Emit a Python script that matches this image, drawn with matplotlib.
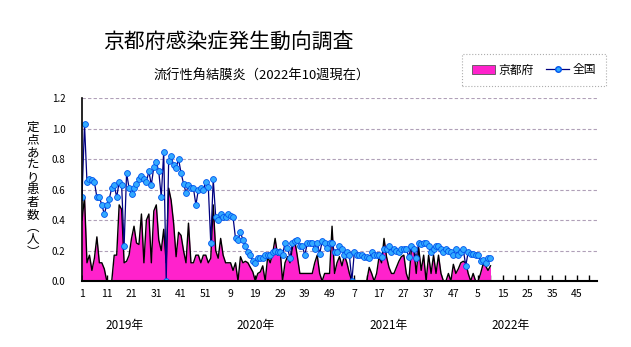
import numpy as np
import matplotlib
matplotlib.use("Agg")
import matplotlib.pyplot as plt
from matplotlib.patches import Patch
from matplotlib.lines import Line2D

plt.rcParams['font.family'] = ['Noto Sans CJK JP', 'DejaVu Sans']

# weekly values, 2019 week 1 .. 2022 week 10
kyoto = [
    0.40, 0.55, 0.12, 0.17, 0.07, 0.15, 0.29, 0.12, 0.12, 0.08,
    0.00, 0.00, 0.00, 0.17, 0.17, 0.50, 0.47, 0.12, 0.13, 0.17,
    0.28, 0.36, 0.25, 0.24, 0.44, 0.12, 0.40, 0.44, 0.12, 0.46,
    0.50, 0.27, 0.20, 0.34, 0.12, 0.61, 0.53, 0.38, 0.16, 0.32,
    0.30, 0.20, 0.12, 0.38, 0.12, 0.12, 0.17, 0.17, 0.12, 0.17,
    0.17, 0.12, 0.15, 0.50, 0.20, 0.15, 0.28, 0.17, 0.12, 0.12,
    0.12, 0.07, 0.12, 0.00, 0.16, 0.12, 0.13, 0.12, 0.09, 0.06,
    0.00, 0.05, 0.06, 0.10, 0.00, 0.16, 0.12, 0.18, 0.28, 0.17,
    0.21, 0.00, 0.12, 0.16, 0.12, 0.22, 0.26, 0.16, 0.05, 0.05,
    0.05, 0.05, 0.05, 0.05, 0.12, 0.17, 0.05, 0.00, 0.05, 0.05,
    0.05, 0.36, 0.05, 0.12, 0.16, 0.10, 0.17, 0.12, 0.05, 0.00,
    0.00, 0.00, 0.00, 0.00, 0.00, 0.00, 0.09, 0.05, 0.00, 0.05,
    0.16, 0.12, 0.28, 0.16, 0.09, 0.05, 0.05, 0.09, 0.13, 0.16,
    0.17, 0.05, 0.00, 0.20, 0.22, 0.05, 0.22, 0.07, 0.17, 0.00,
    0.17, 0.05, 0.17, 0.05, 0.17, 0.05, 0.00, 0.00, 0.05, 0.00,
    0.11, 0.05, 0.08, 0.12, 0.13, 0.12, 0.05, 0.00, 0.05, 0.00,
    0.00, 0.05, 0.11, 0.10, 0.07, 0.10,
]
zenkoku = [
    0.55, 1.03, 0.65, 0.67, 0.66, 0.65, 0.55, 0.55, 0.50, 0.44,
    0.50, 0.54, 0.61, 0.63, 0.55, 0.65, 0.63, 0.23, 0.71, 0.61,
    0.57, 0.61, 0.64, 0.67, 0.69, 0.67, 0.65, 0.72, 0.63, 0.75,
    0.78, 0.72, 0.55, 0.85, 0.00, 0.79, 0.82, 0.76, 0.74, 0.80,
    0.71, 0.64, 0.58, 0.63, 0.61, 0.61, 0.50, 0.60, 0.61, 0.60,
    0.65, 0.62, 0.25, 0.67, 0.42, 0.40, 0.44, 0.42, 0.42, 0.44,
    0.43, 0.42, 0.28, 0.27, 0.32, 0.27, 0.23, 0.19, 0.17, 0.13,
    0.12, 0.15, 0.15, 0.15, 0.17, 0.17, 0.17, 0.19, 0.20, 0.19,
    0.19, 0.17, 0.25, 0.22, 0.15, 0.25, 0.26, 0.27, 0.23, 0.23,
    0.17, 0.25, 0.25, 0.25, 0.21, 0.25, 0.18, 0.26, 0.25, 0.22,
    0.25, 0.25, 0.19, 0.19, 0.23, 0.21, 0.17, 0.19, 0.17, 0.00,
    0.19, 0.17, 0.17, 0.17, 0.16, 0.16, 0.15, 0.19, 0.17, 0.17,
    0.17, 0.16, 0.21, 0.21, 0.23, 0.19, 0.21, 0.20, 0.19, 0.21,
    0.21, 0.21, 0.16, 0.23, 0.21, 0.15, 0.25, 0.24, 0.25, 0.25,
    0.23, 0.19, 0.21, 0.23, 0.23, 0.21, 0.19, 0.21, 0.20, 0.19,
    0.17, 0.21, 0.17, 0.19, 0.21, 0.10, 0.19, 0.18, 0.18, 0.17,
    0.17, 0.13, 0.14, 0.12, 0.15, 0.15,
]
tick_labels = ['1', '11', '21', '31', '41', '51', '9', '19', '29', '39', '49',
               '7', '17', '27', '37', '47', '5', '15', '25', '35', '45']
years = ['2019年', '2020年', '2021年', '2022年']
year_pos = [18, 71, 125, 174]

weeks = np.arange(1, len(kyoto) + 1)

fig = plt.figure(figsize=(6.31, 3.47), dpi=100)
ax = fig.add_axes([0.130, 0.190, 0.816, 0.527])

ax.fill_between(weeks, kyoto, 0, color='#ff22cc', lw=0)
ax.plot(weeks, kyoto, color='black', lw=1.0)
ax.plot(weeks, zenkoku, color='#000080', lw=0.9, marker='o', ms=4.2,
        mfc='#33aaff', mec='#0055ee', mew=0.6)

ax.set_xlim(1, 209)
ax.set_ylim(0, 1.2)
ax.set_yticks(np.arange(0, 1.21, 0.2))
ax.set_yticklabels([f'{v:.1f}' for v in np.arange(0, 1.21, 0.2)])
ax.set_xticks(np.arange(1, 209, 10))
ax.set_xticklabels(tick_labels)
ax.set_xticks(np.arange(6, 209, 10), minor=True)
ax.tick_params(axis='y', length=0, pad=12, labelsize=7)
ax.tick_params(axis='x', which='both', direction='in', length=4, pad=6,
               labelsize=7.5, width=1)
ax.grid(axis='y', color='#b0a0b8', ls=(0, (3, 2)), lw=0.8)
ax.set_axisbelow(True)
for s in ['top', 'right']:
    ax.spines[s].set_visible(False)
ax.spines['left'].set_linewidth(1.2)
ax.spines['bottom'].set_linewidth(1.5)

for yr, p in zip(years, year_pos):
    ax.text(p, -0.29, yr, ha='center', va='center', fontsize=8.5,
            transform=ax.transData, clip_on=False)

fig.text(228 / 631, 1 - 42 / 347, '京都府感染症発生動向調査', ha='center',
         va='center', fontsize=15)
fig.text(262 / 631, 1 - 76 / 347, '流行性角結膜炎（2022年10週現在）', ha='center',
         va='center', fontsize=9.5)
fig.text(33 / 631, 1 - 190 / 347, '\n'.join('定点あたり患者数︵人︶'),
         ha='center', va='center', fontsize=9, linespacing=0.95)

handles = [Patch(facecolor='#ff22cc', edgecolor='#555555', lw=0.6),
           Line2D([0], [0], color='#000080', lw=0.9, marker='o', ms=4,
                  mfc='#33aaff', mec='#0055ee')]
leg = fig.legend(handles, ['京都府', '全国'], loc='center',
                 bbox_to_anchor=(534 / 631, 1 - 70 / 347), ncol=2,
                 fontsize=8.5, frameon=True, fancybox=False,
                 handlelength=2.0, handletextpad=0.3, columnspacing=1.0,
                 borderpad=0.8)
leg.get_frame().set_edgecolor('#999999')
leg.get_frame().set_linestyle(':')
leg.get_frame().set_linewidth(0.8)

fig.savefig('out.png', dpi=100)
